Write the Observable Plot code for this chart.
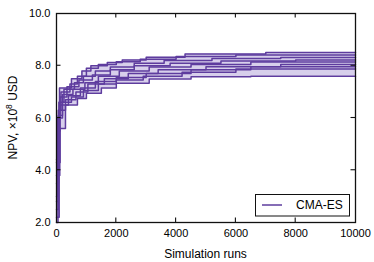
<!DOCTYPE html>
<html>
<head>
<meta charset="utf-8">
<script src="https://cdn.jsdelivr.net/npm/d3@7"></script>
<script src="https://cdn.jsdelivr.net/npm/@observablehq/plot@0.6"></script>
<style>
  html, body { margin: 0; padding: 0; background: #fff; }
  svg { display: block; }
</style>
</head>
<body>
<div id="chart"></div>
<script>
// Best-so-far NPV (×10^8 USD) vs simulation runs, one step curve per CMA-ES run
const seriesNames = ["run1","run2","run3","run4","run5","run6","run7","run8","run9"];
const run1 = [[0,3.0],[40,6.0],[100,7.15],[500,7.5],[850,7.8],[1150,8.0],[1700,8.12],[2200,8.22],[3000,8.33],[4300,8.45],[7000,8.51],[10000,8.51]];
const run2 = [[0,2.5],[60,6.3],[150,7.0],[450,7.3],[700,7.6],[1000,7.9],[1400,8.05],[2000,8.15],[2800,8.25],[4000,8.35],[6000,8.41],[10000,8.41]];
const run3 = [[0,4.4],[80,6.6],[250,7.1],[600,7.35],[900,7.6],[1300,7.8],[1800,7.95],[2600,8.1],[3600,8.2],[5200,8.28],[7500,8.32],[10000,8.32]];
const run4 = [[0,2.0],[50,5.5],[120,6.8],[350,7.2],[750,7.45],[1200,7.65],[1800,7.85],[2600,8.0],[3800,8.1],[5500,8.18],[8000,8.22],[10000,8.22]];
const run5 = [[0,3.5],[70,6.0],[200,6.9],[550,7.1],[950,7.35],[1400,7.6],[2100,7.8],[3100,7.95],[4500,8.05],[6500,8.14],[10000,8.14]];
const run6 = [[0,2.2],[90,6.3],[300,6.7],[650,7.0],[1050,7.3],[1600,7.5],[2400,7.7],[3400,7.85],[5000,7.96],[7500,8.05],[10000,8.05]];
const run7 = [[0,3.8],[110,6.5],[400,6.85],[800,7.15],[1300,7.4],[2000,7.55],[3000,7.7],[4500,7.85],[6500,7.96],[10000,7.96]];
const run8 = [[0,2.8],[60,6.1],[200,6.6],[500,6.8],[900,7.05],[1400,7.3],[2000,7.45],[2900,7.6],[4200,7.75],[6000,7.88],[10000,7.88]];
const run9 = [[0,4.3],[120,5.6],[300,6.5],[700,6.75],[1000,6.95],[1500,7.15],[2000,7.33],[3100,7.49],[4500,7.58],[6500,7.6],[10000,7.6]];
const xTicks = [0, 2000, 4000, 6000, 8000, 10000];
const yTicks = [2, 4, 6, 8, 10];
const legendLabel = "CMA-ES";

const allRuns = [run1, run2, run3, run4, run5, run6, run7, run8, run9];
const rows = allRuns.flatMap((s, i) => s.map(([run, npv]) => ({run, npv, series: seriesNames[i]})));

// envelope (min/max over runs) at every breakpoint, step-after
const grid = Array.from(new Set(rows.map(d => d.run))).sort((a, b) => a - b);
const valueAt = (s, x) => { let v = s[0][1]; for (const [r, n] of s) { if (r <= x) v = n; else break; } return v; };
const band = grid.map(x => {
  const vals = allRuns.map(s => valueAt(s, x));
  return {run: x, lo: d3.min(vals), hi: d3.max(vals)};
});

const lineColor = "#5e3c9e";
const fillColor = "#d7cfeb";

const chart = Plot.plot({
  width: 374,
  height: 262,
  marginLeft: 56,
  marginRight: 19,
  marginTop: 13,
  marginBottom: 40,
  style: {fontFamily: "'Liberation Sans', Arial, sans-serif", fontSize: "11px", color: "black", background: "white"},
  x: {domain: [0, 10000]},
  y: {domain: [2, 10]},
  marks: [
    Plot.areaY(band, {x: "run", y1: "lo", y2: "hi", curve: "step-after", fill: fillColor}),
    Plot.line(rows, {x: "run", y: "npv", z: "series", curve: "step-after", stroke: lineColor, strokeWidth: 1.5}),
    Plot.axisX({ticks: xTicks, tickSize: 0, tickPadding: 7, tickFormat: d => String(d), label: null}),
    Plot.axisY({ticks: yTicks, tickSize: 0, tickPadding: 6, tickFormat: d => d.toFixed(1), label: null}),
    Plot.frame({stroke: "#111", strokeWidth: 1.3})
  ]
});

const svg = d3.select(chart);
const sx = chart.scale("x"), sy = chart.scale("y");
const L = 56, R = 374 - 19, T = 13, B = 262 - 40, tl = 4.5;
const g = svg.append("g").attr("stroke", "#111").attr("stroke-width", 1.1);
for (const v of xTicks.slice(1, -1)) {
  const x = sx.apply(v);
  g.append("line").attr("x1", x).attr("x2", x).attr("y1", B).attr("y2", B - tl);
  g.append("line").attr("x1", x).attr("x2", x).attr("y1", T).attr("y2", T + tl);
}
for (const v of yTicks.slice(1, -1)) {
  const y = sy.apply(v);
  g.append("line").attr("x1", L).attr("x2", L + tl).attr("y1", y).attr("y2", y);
  g.append("line").attr("x1", R).attr("x2", R - tl).attr("y1", y).attr("y2", y);
}

// axis labels
svg.append("text")
  .attr("x", (L + R) / 2).attr("y", 258)
  .attr("text-anchor", "middle")
  .attr("font-size", 12).attr("fill", "black")
  .text("Simulation runs");
const yl = svg.append("text")
  .attr("transform", `translate(16.5,${(T + B) / 2}) rotate(-90)`)
  .attr("text-anchor", "middle")
  .attr("font-size", 12).attr("fill", "black");
yl.append("tspan").text("NPV, ×10");
yl.append("tspan").attr("font-size", 8.5).attr("dy", -5).text("8");
yl.append("tspan").attr("dy", 5).text(" USD");

// legend
const lg = svg.append("g");
lg.append("rect").attr("x", 255.5).attr("y", 194.5).attr("width", 94).attr("height", 21.5)
  .attr("fill", "white").attr("stroke", "#111").attr("stroke-width", 1);
lg.append("line").attr("x1", 262).attr("x2", 282).attr("y1", 205).attr("y2", 205)
  .attr("stroke", lineColor).attr("stroke-width", 1.5);
lg.append("text").attr("x", 296).attr("y", 205).attr("dy", "0.35em")
  .attr("text-anchor", "start")
  .attr("font-size", 12).attr("fill", "black").text(legendLabel);

document.getElementById("chart").appendChild(chart);
</script>
</body>
</html>
